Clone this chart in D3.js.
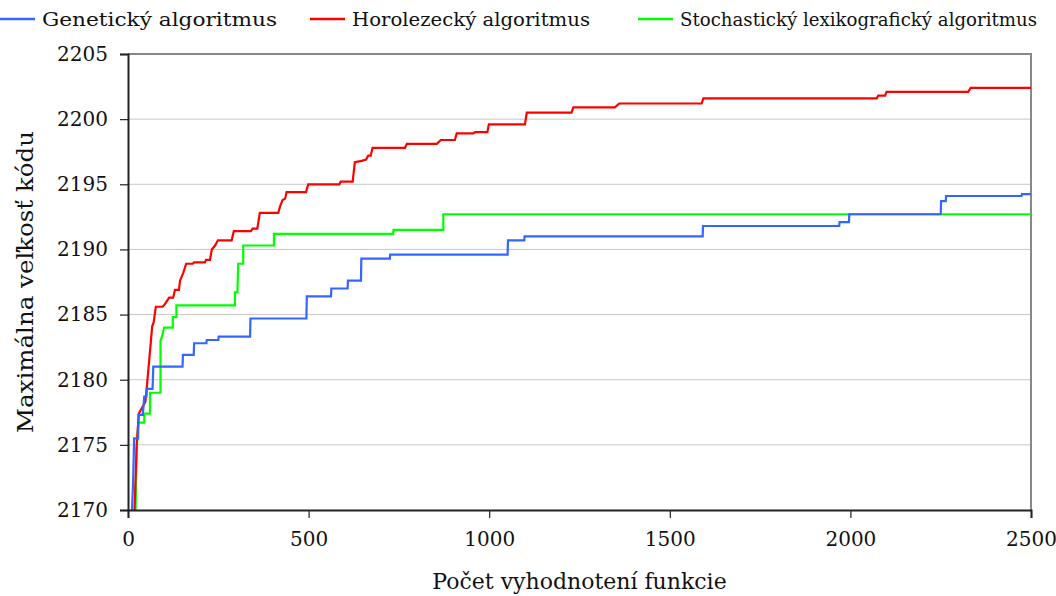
<!DOCTYPE html>
<html>
<head>
<meta charset="utf-8">
<script src="https://cdn.jsdelivr.net/npm/d3@7"></script>
<style>
  body { margin: 0; background: #fff; }
  svg, svg text { font-family: "DejaVu Serif", "Liberation Serif", "Noto Serif", serif !important; }
</style>
</head>
<body>
<svg id="chart"></svg>
<script>
// series names (legend order)
const seriesNames = ["Genetický algoritmus", "Horolezecký algoritmus", "Stochastický lexikografický algoritmus"];
const seriesColors = ["#3366ff", "#ff0000", "#00ff00"];

// [evaluations, max code size]
const genetic = [[11,2170],[14,2172],[17,2175.5],[28,2175.5],[29,2177.3],[41,2177.3],[45,2178.7],[51,2178.7],
  [52,2179.3],[68,2179.3],[70,2181.0],[151,2181.0],[152,2181.9],[182,2181.9],[183,2182.8],[217,2182.8],
  [218,2183.05],[250,2183.05],[251,2183.3],[338,2183.3],[339,2184.7],[494,2184.7],[495,2186.4],[562,2186.4],
  [563,2187.0],[608,2187.0],[609,2187.6],[645,2187.6],[646,2189.3],[725,2189.3],[726,2189.6],[1051,2189.6],
  [1052,2190.7],[1097,2190.7],[1098,2191.0],[1591,2191.0],[1592,2191.8],[1969,2191.8],[1970,2192.1],[1996,2192.1],
  [1997,2192.7],[2250,2192.7],[2251,2193.7],[2264,2193.7],[2265,2194.1],[2474,2194.1],[2475,2194.25],[2500,2194.25]];

const hillClimb = [[18,2170],[24,2175],[30,2177.4],[48,2178.3],[52,2179.4],[67,2184.1],[71,2184.4],[77,2185.6],
  [96,2185.6],[102,2185.8],[114,2186.3],[125,2186.3],[130,2186.9],[141,2186.9],[144,2187.6],[153,2188.2],
  [161,2188.9],[179,2188.9],[183,2189.0],[213,2189.0],[216,2189.2],[227,2189.2],[232,2190.0],[241,2190.3],
  [249,2190.7],[287,2190.7],[293,2191.4],[340,2191.4],[345,2191.6],[358,2191.6],[365,2192.8],[416,2192.8],
  [421,2193.3],[428,2193.8],[435,2193.9],[439,2194.4],[493,2194.4],[499,2195.0],[585,2195.0],[589,2195.2],
  [622,2195.2],[628,2196.7],[647,2196.8],[659,2196.9],[665,2197.2],[672,2197.2],[677,2197.8],[767,2197.8],
  [772,2198.1],[855,2198.1],[866,2198.4],[905,2198.4],[910,2198.9],[956,2198.9],[961,2199.0],[995,2199.0],
  [999,2199.6],[1099,2199.6],[1104,2200.5],[1228,2200.5],[1233,2200.9],[1348,2200.9],[1360,2201.2],[1588,2201.2],
  [1593,2201.6],[2073,2201.6],[2077,2201.8],[2096,2201.8],[2100,2202.1],[2326,2202.1],[2333,2202.4],[2500,2202.4]];

const stochastic = [[21,2170],[24,2174.6],[28.5,2176.7],[45,2176.7],[45,2177.4],[61,2177.4],[61,2179.0],[90,2179.0],
  [90,2183.0],[95,2183.4],[100,2184.0],[124,2184.0],[124,2184.8],[134,2184.8],[134,2185.7],[296,2185.7],
  [296,2186.7],[303,2186.7],[305,2188.9],[319,2188.9],[319,2190.3],[404,2190.3],[404,2191.2],[734,2191.2],
  [735,2191.5],[873,2191.5],[873,2192.7],[2500,2192.7]];

const xTicks = [0, 500, 1000, 1500, 2000, 2500];
const yTicks = [2170, 2175, 2180, 2185, 2190, 2195, 2200, 2205];

const svgWidth = 1056;
const svgHeight = 596;
const margin = { top: 54, right: 25, bottom: 86, left: 128 };
const width = svgWidth - margin.left - margin.right;
const height = svgHeight - margin.top - margin.bottom;
const serif = "DejaVu Serif, Liberation Serif, serif";

const svg = d3.select("#chart")
  .attr("width", svgWidth)
  .attr("height", svgHeight)
  .attr("font-family", serif);

const xScale = d3.scaleLinear().domain([0, 2500]).range([margin.left, margin.left + width]);
const yScale = d3.scaleLinear().domain([2170, 2205]).range([margin.top + height, margin.top]);

// gridlines
svg.append("g")
  .selectAll("line")
  .data(yTicks.slice(1, -1))
  .enter().append("line")
  .attr("x1", xScale(0)).attr("x2", xScale(2500))
  .attr("y1", d => yScale(d)).attr("y2", d => yScale(d))
  .attr("stroke", "#c8c8c8").attr("stroke-width", 1);

// frame (top and right, gray)
svg.append("path")
  .attr("d", `M${xScale(0)},${yScale(2205)}H${xScale(2500)}V${yScale(2170)}`)
  .attr("fill", "none").attr("stroke", "#888").attr("stroke-width", 2);

// clip for lines
svg.append("clipPath").attr("id", "clip")
  .append("rect")
  .attr("x", xScale(0)).attr("y", yScale(2205))
  .attr("width", width).attr("height", height);

const line = d3.line()
  .x(d => xScale(d[0]))
  .y(d => yScale(d[1]));

const allSeries = [genetic, hillClimb, stochastic];
// green drawn first, blue on top
[2, 1, 0].forEach(i => {
  svg.append("path")
    .datum(allSeries[i])
    .attr("clip-path", "url(#clip)")
    .attr("fill", "none")
    .attr("stroke", seriesColors[i])
    .attr("stroke-width", 2.2)
    .attr("d", line);
});

// axes
const xAxis = svg.append("g")
  .attr("transform", `translate(0,${yScale(2170)})`)
  .call(d3.axisBottom(xScale).tickValues(xTicks).tickSize(8).tickPadding(14).tickFormat(d3.format("d")));
const yAxis = svg.append("g")
  .attr("transform", `translate(${xScale(0)},0)`)
  .call(d3.axisLeft(yScale).tickValues(yTicks).tickSize(8).tickPadding(12).tickFormat(d3.format("d")));

[xAxis, yAxis].forEach(ax => {
  ax.attr("font-family", serif);
  ax.select(".domain").attr("stroke", "#222").attr("stroke-width", 2);
  ax.selectAll(".tick line").attr("stroke", "#222").attr("stroke-width", 1.2);
  ax.selectAll(".tick text").attr("font-size", 20).attr("fill", "#111");
});

// axis titles
svg.append("text")
  .attr("x", (xScale(0) + xScale(2500)) / 2)
  .attr("y", 589)
  .attr("text-anchor", "middle")
  .attr("font-size", 22)
  .attr("fill", "#111")
  .text("Počet vyhodnotení funkcie");

svg.append("text")
  .attr("transform", `translate(33,${(yScale(2170) + yScale(2205)) / 2}) rotate(-90)`)
  .attr("text-anchor", "middle")
  .attr("font-size", 22)
  .attr("fill", "#111")
  .attr("textLength", 302)
  .attr("lengthAdjust", "spacingAndGlyphs")
  .text("Maximálna veľkosť kódu");

// legend
const legendX = [0, 310, 638];
const legendW = [235, 238, 357];
const legend = svg.append("g");
seriesNames.forEach((name, i) => {
  legend.append("line")
    .attr("x1", legendX[i]).attr("x2", legendX[i] + 35)
    .attr("y1", 19).attr("y2", 19)
    .attr("stroke", seriesColors[i]).attr("stroke-width", 2.5);
  legend.append("text")
    .attr("x", legendX[i] + 42)
    .attr("y", 26)
    .attr("font-size", 19)
    .attr("fill", "#111")
    .attr("textLength", legendW[i])
    .attr("lengthAdjust", "spacingAndGlyphs")
    .text(name);
});
</script>
</body>
</html>
